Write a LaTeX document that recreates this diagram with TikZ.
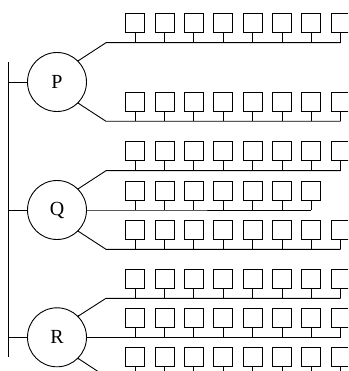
\documentclass[tikz,border=0pt]{standalone}
\usepackage{fontspec}
\setmainfont{Liberation Serif}
\begin{document}
\begin{tikzpicture}[x=1pt,y=-1pt,line width=0.9pt,
  hub/.style={draw,circle,minimum size=59pt,inner sep=0pt,font=\fontsize{20}{20}\selectfont},
  unit/.style={draw,minimum width=19pt,minimum height=19pt,inner sep=0pt},
  joint/.style={fill,circle,inner sep=0pt,minimum size=2pt}]
\useasboundingbox (0,0) rectangle (348,371);
\clip (0,0) rectangle (348,371);
\coordinate (top) at (8,62);
\coordinate (bot) at (8,356.7);
\draw (top) -- (bot);
\node[hub] (P) at (57,82) {P};
\node[hub] (Q) at (57,210) {Q};
\node[hub] (R) at (57,337.3) {R};
\foreach \h in {P,Q,R} {\draw (\h.west) -- (\h.west -| top);}
\foreach \h/\a/\y/\n [count=\r] in {P/45/42.7/8, P/-45/121.3/8, Q/45/170.7/8, Q/0/210/7, Q/-45/249.3/8, R/45/298.3/8, R/0/337.3/8, R/-45/376.7/8} {
  \coordinate (e\r) at (106,\y);
  \foreach \i in {1,...,\n} {
    \node[unit] (b\r-\i) at ({135.2+29.35*(\i-1)},{\y-19.5}) {};
    \draw (b\r-\i.south) -- (b\r-\i.south |- e\r);
  }
  \draw (\h.\a) -- (e\r) -- (e\r -| b\r-\n.south);
}
\foreach \h in {P,Q,R} {
  \node[joint] (\h a) at (\h.45) {};
  \node[joint] (\h b) at (\h.-45) {};
}
\end{tikzpicture}
\end{document}
